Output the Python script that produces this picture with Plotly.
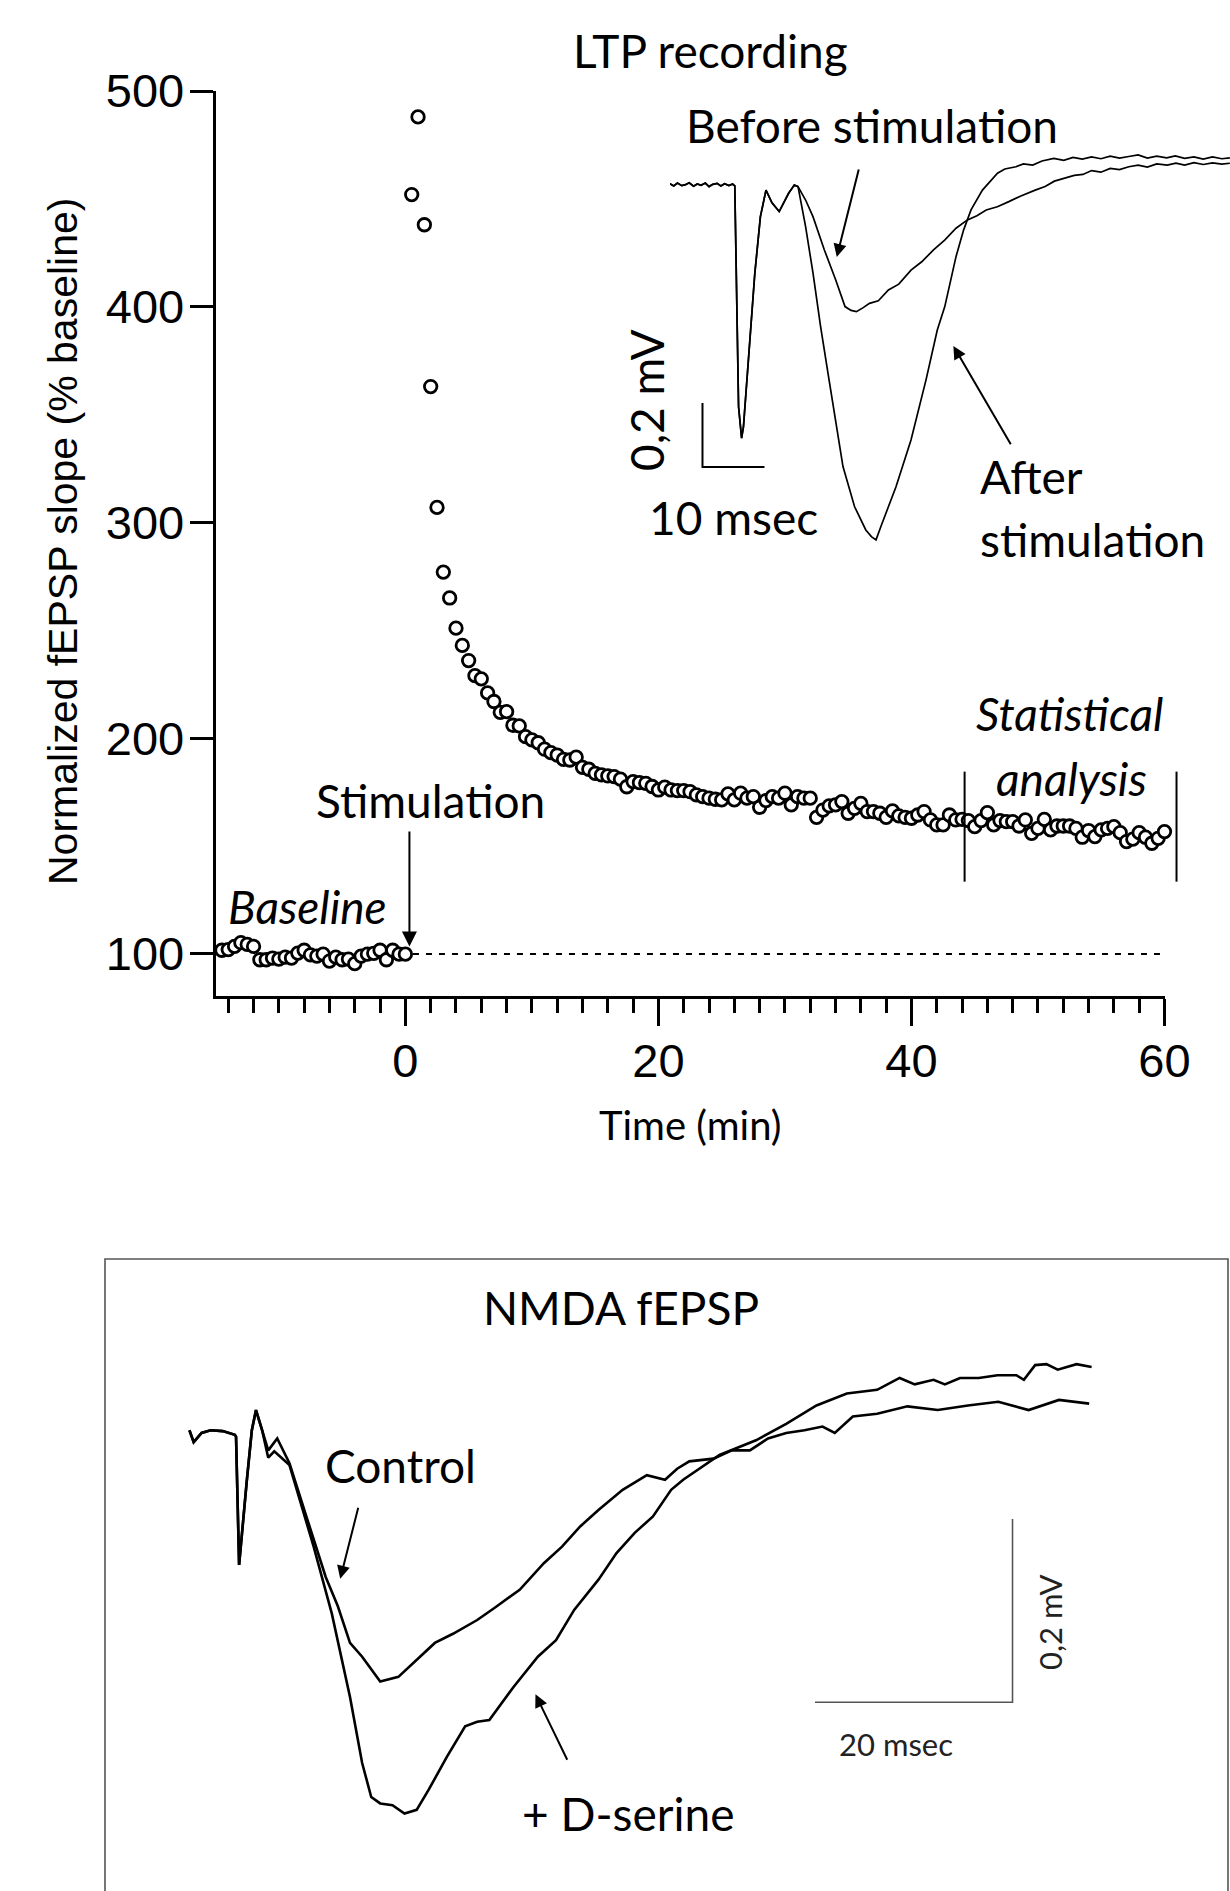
import plotly.graph_objects as go

W, H = 1230, 1891

# ---------------- LTP time course (normalized fEPSP slope, % baseline) ----------------
baseline_time = [-14.5 + 0.5 * i for i in range(30)]
baseline_slope = [101.7, 102.0, 103.5, 105.2, 104.4, 103.5, 97.3, 97.3, 98.1, 97.6,
                  98.5, 98.1, 100.4, 101.7, 99.6, 99.0, 99.9, 96.7, 98.5, 97.3,
                  97.6, 95.5, 99.0, 99.9, 100.3, 101.7, 97.3, 101.7, 99.9, 99.9]

post_time = [0.5 * i for i in range(1, 121)]
post_slope = [452, 488, 438, 363, 307, 277, 265, 251, 243, 236,
              229, 227.5, 221, 217, 212, 212.3, 206, 205.7, 200.7, 199.2,
              197.9, 194.9, 193.3, 192.2, 190.2, 189.9, 191.2, 186.5, 185.6, 183.7,
              183, 182.5, 182.2, 181, 177.5, 179.9, 179.4, 179.1, 177.6, 176,
              177.3, 176, 175.7, 175.7, 175.2, 173.7, 172.9, 172.2, 171.7, 171.4,
              174.2, 171.4, 174.5, 172.2, 172.9, 168, 171.1, 172.9, 172.2, 174.5,
              169.1, 172.9, 172.2, 172.2, 163.3, 166.7, 168.6, 169.1, 170.6, 165.2,
              167.5, 169.8, 166, 166, 165.2, 163.3, 166.3, 164, 163.3, 162.9,
              164.4, 166, 162.1, 159.8, 159.8, 164.4, 162.1, 162.4, 161.8, 159,
              161.8, 165.5, 159.8, 161.8, 161.3, 161.3, 159.3, 162.1, 155.9, 158.2,
              162.4, 157.5, 159.3, 159.3, 159.3, 158.2, 154.1, 157.2, 154.4, 157.5,
              158.2, 159, 156.2, 152.1, 153.2, 156.2, 154.1, 151.3, 153.6, 156.7]

ref_level = 100
ref_line_time = [0.6, 59.7]
stat_window = [44.2, 60.95]          # min, bars around the analysed period
stat_bar_span = [133.5, 184.5]       # % baseline
stim_time = 0.32

x_tick0, x_dtick, x_minor = 0, 20, 2
y_tick0, y_dtick = 100, 100

# ---------------- inset traces: LTP fEPSPs (ms, mV) ----------------
inset_common_ms = [0.0, 0.6, 1.2, 1.9, 2.5, 3.1, 3.8, 4.4, 5.0, 5.7, 6.3, 6.9, 7.6, 8.2, 8.8, 9.5, 10.1, 10.45,
                   11.06, 11.55, 11.85, 12.76, 13.68, 14.58, 15.48, 16.45, 17.61, 19.13, 20.05, 20.65]
inset_common_mv = [0.004, -0.003, 0.006, -0.002, 0.001, 0.007, -0.004, 0.003, -0.001, 0.006, -0.005, 0.002,
                   0.005, -0.003, 0.004, -0.002, 0.003, -0.003,
                   -0.693, -0.791, -0.755, -0.505, -0.276, -0.099, -0.016, -0.056, -0.083, -0.026, 0.0, -0.005]

before_ms = [21.87, 23.06, 24.9, 26.73, 28.23, 29.2, 30.06, 31.1, 32.18, 33.6, 35.23, 36.9, 38.87, 40.6,
             42.5, 44.3, 46.13, 47.97, 49.5, 51.0, 52.8, 54.65, 56.5, 58.9, 60.5, 62.0, 63.7, 65.2, 66.6,
             68.0, 69.5, 71.0, 72.5, 74.0, 75.5, 77.0, 78.5, 80.2, 81.6, 83.0, 84.5, 86.0, 87.5, 89.0, 90.3]
before_mv = [-0.047, -0.099, -0.203, -0.297, -0.38, -0.392, -0.396, -0.384, -0.37, -0.362, -0.328, -0.31,
             -0.266, -0.24, -0.203, -0.172, -0.135, -0.109, -0.096, -0.078, -0.068, -0.052, -0.035, -0.016,
             -0.005, 0.012, 0.021, 0.03, 0.033, 0.045, 0.04, 0.052, 0.048, 0.057, 0.062, 0.056, 0.066, 0.062,
             0.068, 0.062, 0.07, 0.064, 0.069, 0.065, 0.068]

after_ms = [21.87, 23.06, 24.29, 25.48, 26.73, 27.9, 29.76, 31.58, 32.48, 33.23, 34.0, 35.16, 36.45,
            38.87, 41.29, 43.11, 44.32, 46.13, 47.35, 48.55, 50.39, 52.82, 54.0, 55.8, 57.0, 58.5,
            60.0, 61.9, 63.5, 65.0, 66.5, 68.0, 69.5, 71.0, 72.5, 74.0, 75.5, 77.0, 78.5, 80.1,
            81.5, 83.0, 84.5, 86.0, 87.5, 89.0, 90.3]
after_mv = [-0.13, -0.275, -0.443, -0.588, -0.744, -0.88, -1.005, -1.078, -1.099, -1.109, -1.068, -1.009, -0.943,
            -0.797, -0.609, -0.453, -0.38, -0.224, -0.141, -0.078, -0.016, 0.037, 0.05, 0.057, 0.066, 0.062,
            0.075, 0.083, 0.077, 0.086, 0.081, 0.088, 0.082, 0.09, 0.084, 0.089, 0.094, 0.084, 0.09, 0.085,
            0.091, 0.083, 0.088, 0.081, 0.088, 0.082, 0.085]

inset_bar_ms = [5.24, 5.24, 15.24]       # 10 msec
inset_bar_mv = [-0.681, -0.881, -0.881]  # 0,2 mV

# ---------------- NMDA fEPSP traces (ms, mV) ----------------
nmda_common_ms = [0.0, 0.43, 1.23, 2.15, 3.37, 4.6, 4.72, 5.03, 5.82, 6.32, 6.74, 7.36]
nmda_common_mv = [0.002, -0.011, -0.001, 0.002, 0.001, -0.003, -0.005, -0.145, -0.052, 0.002, 0.024, 0.002]

control_ms = [7.98, 8.89, 10.13, 11.96, 13.8, 15.03, 16.26, 17.49, 19.32, 21.16, 23.01, 24.85, 26.69,
              29.14, 30.99, 33.44, 35.89, 37.73, 39.57, 41.42, 43.87, 46.32, 48.16, 49.39, 50.62,
              53.07, 54.92, 56.75, 58.59, 60.43, 62.28, 64.11, 65.35, 67.18, 69.64, 72.71, 75.78,
              78.84, 81.91, 84.98, 88.05, 91.11]
control_mv = [-0.02, -0.007, -0.034, -0.096, -0.158, -0.19, -0.23, -0.245, -0.272, -0.267, -0.249, -0.23, -0.22,
              -0.205, -0.191, -0.172, -0.143, -0.125, -0.103, -0.085, -0.063, -0.047, -0.052, -0.04, -0.032,
              -0.029, -0.02, -0.02, -0.007, -0.001, 0.002, 0.006, -0.001, 0.017, 0.02, 0.028, 0.024,
              0.029, 0.033, 0.024, 0.035, 0.031]

dserine_ms = [7.98, 8.59, 10.13, 12.58, 14.42, 16.26, 17.49, 18.41, 19.32, 20.56, 21.78, 23.01, 24.23,
              26.08, 27.92, 29.14, 30.37, 31.59, 32.82, 35.28, 37.12, 38.96, 41.42, 43.25, 45.09,
              46.94, 48.78, 50.0, 51.85, 53.68, 57.37, 60.43, 63.5, 66.57, 69.64, 71.92, 73.45,
              75.35, 76.5, 78.03, 79.93, 81.83, 83.74, 84.5, 85.64, 86.78, 87.93, 89.83, 91.36]
dserine_mv = [-0.028, -0.021, -0.036, -0.125, -0.198, -0.289, -0.361, -0.398, -0.405, -0.407, -0.416, -0.412, -0.39,
              -0.354, -0.321, -0.316, -0.314, -0.296, -0.278, -0.245, -0.227, -0.194, -0.161, -0.132, -0.11,
              -0.092, -0.063, -0.052, -0.038, -0.025, -0.009, 0.009, 0.029, 0.042, 0.046, 0.059, 0.052,
              0.057, 0.052, 0.059, 0.059, 0.062, 0.062, 0.057, 0.073, 0.074, 0.068, 0.074, 0.071]

nmda_bar_ms = [63.35, 83.35, 83.35]      # 20 msec
nmda_bar_mv = [-0.2947, -0.2947, -0.0947]  # 0,2 mV

# ---------------- layout geometry ----------------
X1_DOM = [215.6 / W, 1164.5 / W]
Y1_DOM = [1 - 996 / H, 1 - 91 / H]
X1_RNG = [-15, 60]
Y1_RNG = [80.5, 500]


def xp(t):
    return X1_DOM[0] + (t - X1_RNG[0]) / (X1_RNG[1] - X1_RNG[0]) * (X1_DOM[1] - X1_DOM[0])


def yp(v):
    return Y1_DOM[0] + (v - Y1_RNG[0]) / (Y1_RNG[1] - Y1_RNG[0]) * (Y1_DOM[1] - Y1_DOM[0])


SANS = "Lato"
ARIAL = "Liberation Sans"

fig = go.Figure()

# reference line at 100 %
fig.add_trace(go.Scatter(x=ref_line_time, y=[ref_level] * len(ref_line_time), mode="lines",
                         line=dict(color="black", width=2, dash="6px,7px"),
                         xaxis="x", yaxis="y", hoverinfo="skip", showlegend=False))
# circles
for tx, vy in ((baseline_time, baseline_slope), (post_time, post_slope)):
    fig.add_trace(go.Scatter(x=tx, y=vy, mode="markers", cliponaxis=False,
                             marker=dict(symbol="circle", size=12.5, color="white",
                                         line=dict(color="black", width=2.8)),
                             xaxis="x", yaxis="y", showlegend=False))

# inset traces
fig.add_trace(go.Scatter(x=inset_common_ms + before_ms, y=inset_common_mv + before_mv, mode="lines",
                         line=dict(color="black", width=1.7), xaxis="x2", yaxis="y2", showlegend=False))
fig.add_trace(go.Scatter(x=inset_common_ms + after_ms, y=inset_common_mv + after_mv, mode="lines",
                         line=dict(color="black", width=1.7), xaxis="x2", yaxis="y2", showlegend=False))
fig.add_trace(go.Scatter(x=inset_bar_ms, y=inset_bar_mv, mode="lines",
                         line=dict(color="black", width=2), xaxis="x2", yaxis="y2", showlegend=False))

# NMDA traces
fig.add_trace(go.Scatter(x=nmda_common_ms + control_ms, y=nmda_common_mv + control_mv, mode="lines",
                         line=dict(color="black", width=2.6), xaxis="x3", yaxis="y3", showlegend=False))
fig.add_trace(go.Scatter(x=nmda_common_ms + dserine_ms, y=nmda_common_mv + dserine_mv, mode="lines",
                         line=dict(color="black", width=2.6), xaxis="x3", yaxis="y3", showlegend=False))
fig.add_trace(go.Scatter(x=nmda_bar_ms, y=nmda_bar_mv, mode="lines",
                         line=dict(color="#555555", width=1.6), xaxis="x3", yaxis="y3", showlegend=False))


def label(text, xpx, ypx, size=46, family=SANS, xanchor="center", angle=0, color="black"):
    return dict(text=text, x=xpx / W, y=1 - ypx / H, xref="paper", yref="paper", showarrow=False,
                xanchor=xanchor, yanchor="middle", textangle=angle,
                font=dict(family=family, size=size, color=color))


def arrow(x, y, ax, ay, xr, yr, width=2, size=1.5):
    return dict(x=x, y=y, ax=ax, ay=ay, xref=xr, yref=yr, axref=xr, ayref=yr, text="",
                showarrow=True, arrowhead=2, arrowsize=size, arrowwidth=width, arrowcolor="black")


annotations = [
    label("LTP recording", 710, 50),
    label("Normalized fEPSP slope (% baseline)", 63, 542, size=41, family=ARIAL, angle=-90),
    label("Time (min)", 690, 1125, size=40),
    label("Stimulation", 430, 801),
    label("<i>Baseline</i>", 226, 906, xanchor="left"),
    label("<i>Statistical</i>", 1069, 713),
    label("<i>analysis</i>", 1071, 778),
    label("Before stimulation", 872, 126),
    label("After", 978, 476, xanchor="left"),
    label("stimulation", 978, 539, xanchor="left"),
    label("10 msec", 733, 517),
    label("0,2 mV", 646, 400, angle=-90),
    label("NMDA fEPSP", 621, 1307),
    label("Control", 401, 1465),
    label("+ D-serine", 628, 1813),
    label("20 msec", 896, 1744, size=31, color="#222222"),
    label("0,2 mV", 1050, 1623, size=31, angle=-90, color="#222222"),
    arrow(stim_time, 103.5, stim_time, 157.5, "x", "y"),
    arrow(26.9, -0.225, 30.5, 0.053, "x2", "y2", width=2, size=1.3),
    arrow(45.7, -0.503, 55.1, -0.815, "x2", "y2", width=2, size=1.3),
    arrow(15.27, -0.160, 17.13, -0.081, "x3", "y3", width=2, size=1.3),
    arrow(35.04, -0.286, 38.33, -0.359, "x3", "y3", width=2, size=1.3),
]

shapes = [
    dict(type="line", xref="paper", yref="paper", x0=xp(t), x1=xp(t),
         y0=yp(stat_bar_span[0]), y1=yp(stat_bar_span[1]), line=dict(color="black", width=2))
    for t in stat_window
]
shapes.append(dict(type="rect", xref="paper", yref="paper", x0=105 / W, x1=1228 / W,
                   y0=-0.02, y1=1 - 1259 / H, line=dict(color="#555555", width=1.6)))

fig.update_layout(
    width=W, height=H, autosize=False,
    margin=dict(l=0, r=0, t=0, b=0, pad=0, autoexpand=False),
    paper_bgcolor="white", plot_bgcolor="white",
    showlegend=False,
    xaxis=dict(domain=X1_DOM, range=X1_RNG, anchor="y", tick0=x_tick0, dtick=x_dtick,
               automargin=False, ticklabelstandoff=-5,
               ticks="outside", ticklen=27, tickwidth=3, tickcolor="black",
               showline=True, linewidth=3, linecolor="black", showgrid=False, zeroline=False,
               tickfont=dict(family=ARIAL, size=47, color="black"),
               minor=dict(tick0=0, dtick=x_minor, ticks="outside", ticklen=14, tickwidth=3,
                          tickcolor="black", showgrid=False)),
    yaxis=dict(domain=Y1_DOM, range=Y1_RNG, anchor="x", tick0=y_tick0, dtick=y_dtick,
               automargin=False, ticklabelstandoff=-4,
               ticks="outside", ticklen=23, tickwidth=3, tickcolor="black",
               showline=True, linewidth=3, linecolor="black", showgrid=False, zeroline=False,
               tickfont=dict(family=ARIAL, size=47, color="black")),
    xaxis2=dict(domain=[670 / W, 1.0], range=[0, 90.32], anchor="y2", visible=False, automargin=False),
    yaxis2=dict(domain=[1 - 560 / H, 1 - 140 / H], range=[-1.172, 0.1406], anchor="x2", visible=False,
                automargin=False),
    xaxis3=dict(domain=[105 / W, 1228 / W], range=[-8.55, 105.17], anchor="y3", visible=False,
                automargin=False),
    yaxis3=dict(domain=[0, 1 - 1259 / H], range=[-0.5005, 0.1887], anchor="x3", visible=False,
                automargin=False),
    annotations=annotations,
    shapes=shapes,
)

fig.write_html("out.html", config={"displayModeBar": False},
               post_script="document.body.style.margin='0px';")
